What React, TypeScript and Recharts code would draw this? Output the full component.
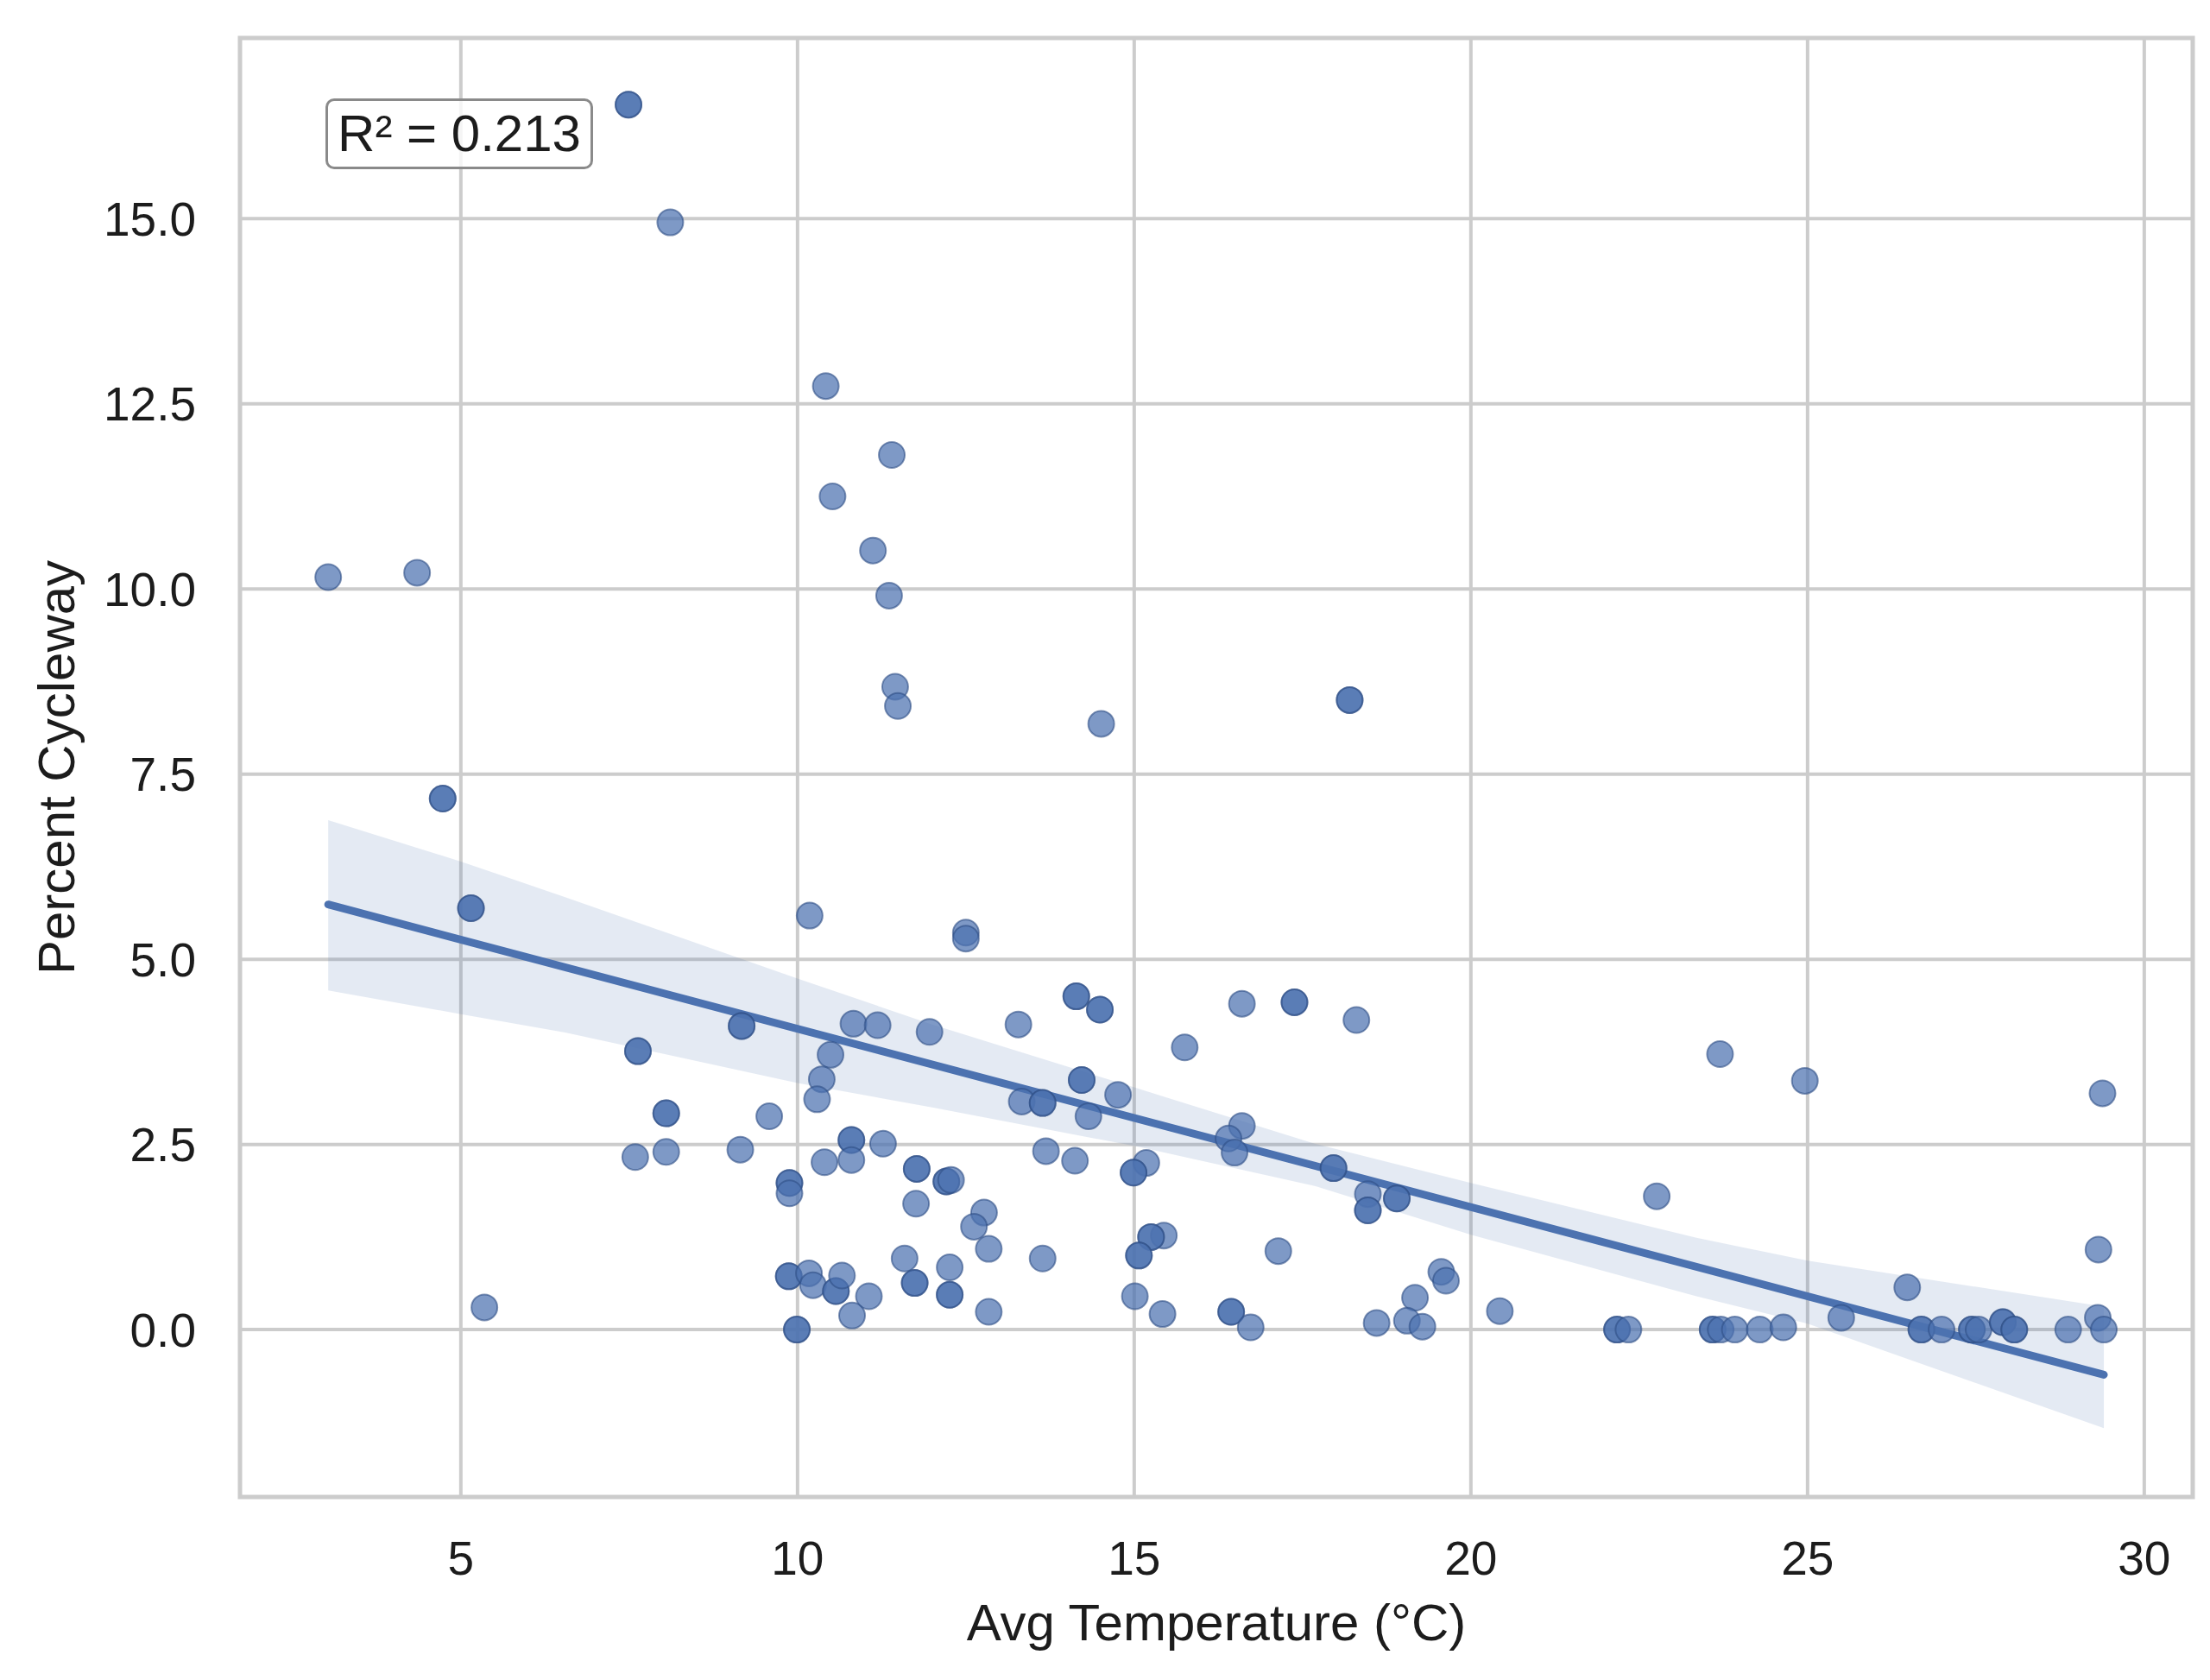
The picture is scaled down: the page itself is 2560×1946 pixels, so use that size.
import React from 'react';
import { ComposedChart, Scatter, Area, XAxis, YAxis, CartesianGrid, ReferenceLine, ReferenceArea } from 'recharts';

const xTicks = [5, 10, 15, 20, 25, 30];
const yTicks = [0, 2.5, 5, 7.5, 10, 12.5, 15];

// [avg temperature, percent cycleway] - repeated pairs are stacked points (show darker)
const highPoints = [
  [7.49, 16.54], [7.49, 16.54], [8.11, 14.95], [10.42, 12.74], [11.4, 11.81],
  [10.52, 11.25], [11.12, 10.52], [11.36, 9.91], [11.45, 8.68], [11.49, 8.42],
  [14.51, 8.18], [18.2, 8.5], [18.2, 8.5], [3.03, 10.16], [4.35, 10.22],
];

const leftPoints = [
  [4.73, 7.17], [4.73, 7.17], [5.15, 5.69], [5.15, 5.69], [7.63, 3.76], [7.63, 3.76],
  [8.05, 2.92], [8.05, 2.92], [9.58, 2.88], [7.59, 2.33], [8.05, 2.4], [9.15, 2.43],
  [9.17, 4.1], [9.17, 4.1], [5.35, 0.3],
];

const midPoints = [
  [10.18, 5.59], [12.5, 5.36], [12.5, 5.28], [14.14, 4.5], [14.14, 4.5], [14.49, 4.32], [14.49, 4.32],
  [10.83, 4.13], [11.19, 4.11], [11.96, 4.02], [13.28, 4.12], [10.49, 3.71], [10.36, 3.38],
  [10.29, 3.11], [14.22, 3.37], [14.22, 3.37], [13.33, 3.08], [13.64, 3.06], [13.64, 3.06],
  [14.32, 2.88], [14.76, 3.17], [10.8, 2.56], [10.8, 2.56], [10.8, 2.29], [10.4, 2.26],
  [11.27, 2.51], [13.69, 2.41], [14.12, 2.28], [9.88, 1.98], [9.88, 1.98], [9.88, 1.84],
  [11.77, 2.17], [11.77, 2.17], [12.21, 2.0], [12.21, 2.0], [12.28, 2.02], [11.76, 1.7],
  [12.77, 1.58], [12.62, 1.39], [12.84, 1.09], [13.64, 0.96], [11.59, 0.96], [12.26, 0.84],
  [11.74, 0.63], [11.74, 0.63], [12.26, 0.47], [12.26, 0.47], [12.84, 0.24], [9.87, 0.72],
  [9.87, 0.72], [10.17, 0.76], [10.23, 0.6], [10.57, 0.52], [10.57, 0.52], [10.66, 0.73],
  [11.06, 0.45], [10.81, 0.19], [9.99, 0.0], [9.99, 0.0],
];

const warmPoints = [
  [16.6, 4.4], [17.38, 4.42], [17.38, 4.42], [18.3, 4.18], [15.75, 3.81], [16.6, 2.75],
  [16.4, 2.58], [16.49, 2.39], [17.96, 2.18], [17.96, 2.18], [15.18, 2.25], [14.99, 2.12],
  [14.99, 2.12], [18.47, 1.83], [18.47, 1.61], [18.47, 1.61], [18.9, 1.77], [18.9, 1.77],
  [15.44, 1.27], [15.25, 1.25], [15.25, 1.25], [15.07, 1.0], [15.07, 1.0], [17.14, 1.06],
  [19.56, 0.78], [19.63, 0.66], [19.17, 0.43], [15.01, 0.45], [15.42, 0.21], [16.44, 0.24],
  [16.44, 0.24], [16.73, 0.03], [18.6, 0.09], [19.05, 0.12], [19.28, 0.04], [20.43, 0.25],
];

const hotPoints = [
  [23.7, 3.72], [24.96, 3.36], [29.38, 3.19], [22.76, 1.8], [29.32, 1.08], [26.48, 0.57],
  [25.5, 0.16], [29.31, 0.16], [22.17, 0], [22.17, 0], [22.34, 0], [23.59, 0], [23.59, 0],
  [23.71, 0], [23.92, 0], [24.29, 0], [24.64, 0.03], [26.69, 0], [26.69, 0], [26.99, 0],
  [27.44, 0], [27.44, 0], [27.54, 0], [27.9, 0.1], [27.9, 0.1], [28.07, 0], [28.07, 0],
  [28.87, 0], [29.4, 0],
];

// fitted regression line and its confidence band
const fitLine = [{ x: 3.03, y: 5.74 }, { x: 29.4, y: -0.61 }];
const bandX = [3.03, 5.0, 6.55, 10.0, 12.0, 15.0, 17.68, 20.0, 23.35, 25.0, 29.4];
const bandLow = [4.58, 4.26, 4.01, 3.33, 3.0, 2.48, 1.94, 1.28, 0.45, 0.08, -1.33];
const bandHigh = [6.88, 6.32, 5.84, 4.74, 4.12, 3.27, 2.51, 1.98, 1.24, 0.93, 0.31];

const points = [...highPoints, ...leftPoints, ...midPoints, ...warmPoints, ...hotPoints].map(([x, y]) => ({ x, y }));
const bandData = bandX.map((x, i) => ({ x, band: [bandLow[i], bandHigh[i]] }));

const FONT = '"Liberation Sans", Arial, sans-serif';
const BLUE = '#4c72b0';
const INK = '#1c1c1c';

const Dot = (p: any) => (
  <circle cx={p.cx} cy={p.cy} r={15} fill={BLUE} fillOpacity={0.72} stroke="#2f4f86" strokeOpacity={0.6} strokeWidth={2} />
);

export default function App() {
  return (
    <div style={{ position: 'absolute', left: 0, top: 0, width: 2560, height: 1946, background: '#fff', fontFamily: FONT }}>
      <ComposedChart width={2560} height={1946} data={bandData} margin={{ top: 44, right: 20, bottom: 0, left: 0 }}>
        <CartesianGrid stroke="#cccccc" strokeWidth={4} />
        <XAxis
          type="number"
          dataKey="x"
          domain={[1.72, 30.72]}
          ticks={xTicks}
          allowDataOverflow
          height={212}
          axisLine={false}
          tickLine={false}
          tickSize={0}
          tickMargin={51}
          tick={{ fontSize: 55, fill: INK, fontFamily: FONT }}
          label={{ value: 'Avg Temperature (°C)', position: 'insideBottom', offset: 46, fontSize: 60, fill: INK, fontFamily: FONT }}
        />
        <YAxis
          type="number"
          dataKey="y"
          domain={[-2.26, 17.44]}
          ticks={yTicks}
          allowDataOverflow
          width={278}
          axisLine={false}
          tickLine={false}
          tickSize={0}
          tickMargin={51}
          tickFormatter={(v: number) => v.toFixed(1)}
          tick={{ fontSize: 55, fill: INK, fontFamily: FONT }}
          label={{ value: 'Percent Cycleway', angle: -90, position: 'insideLeft', offset: 65, fontSize: 60, fill: INK, fontFamily: FONT, style: { textAnchor: 'middle' } }}
        />
        <ReferenceArea x1={1.72} x2={30.72} y1={-2.26} y2={17.44} fill="none" stroke="#cccccc" strokeWidth={5} ifOverflow="visible" />
        <Scatter data={points} shape={Dot} isAnimationActive={false} />
        <Area type="linear" dataKey="band" stroke="none" fill={BLUE} fillOpacity={0.15} isAnimationActive={false} activeDot={false} dot={false} />
        <ReferenceLine segment={fitLine} stroke={BLUE} strokeWidth={9} strokeLinecap="round" ifOverflow="visible" />
      </ComposedChart>
      <div
        style={{
          position: 'absolute', left: 377, top: 114, width: 310, height: 82, boxSizing: 'border-box',
          border: '3px solid #8a8a8a', borderRadius: 10, background: 'rgba(255,255,255,0.8)',
          display: 'flex', alignItems: 'center', justifyContent: 'center',
          fontSize: 60, color: INK, fontFamily: FONT, lineHeight: 1,
        }}
      >
        R² = 0.213
      </div>
    </div>
  );
}
